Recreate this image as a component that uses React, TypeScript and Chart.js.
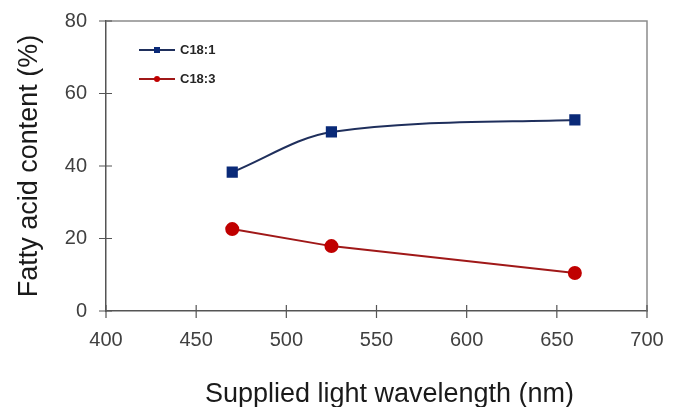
import React, { useEffect, useRef } from "react";
import { Chart, registerables } from "chart.js";

Chart.register(...registerables);

const wavelengths = [470, 525, 660];
const c181Values = [38.3, 49.4, 52.7];
const c183Values = [22.6, 17.9, 10.5];
const seriesNames = ["C18:1", "C18:3"];
const xTitle = "Supplied light wavelength (nm)";
const yTitle = "Fatty acid content (%)";

const FONT = "'Liberation Sans', Arial, sans-serif";

const frameAndTicks = {
  id: "frameAndTicks",
  afterDraw(chart: any) {
    const { ctx, chartArea } = chart;
    const { left, right, top, bottom } = chartArea;
    ctx.save();
    ctx.strokeStyle = "#8c8c8c";
    ctx.lineWidth = 1.5;
    ctx.beginPath();
    ctx.moveTo(left, top);
    ctx.lineTo(right, top);
    ctx.lineTo(right, bottom);
    ctx.stroke();
    ctx.strokeStyle = "#555555";
    ctx.lineWidth = 1.2;
    const xs = chart.scales.x;
    const ys = chart.scales.y;
    ctx.beginPath();
    xs.ticks.forEach((t: any) => {
      const px = xs.getPixelForValue(t.value);
      ctx.moveTo(px, bottom - 6);
      ctx.lineTo(px, bottom + 7);
    });
    ys.ticks.forEach((t: any) => {
      const py = ys.getPixelForValue(t.value);
      ctx.moveTo(left - 7, py);
      ctx.lineTo(left + 6, py);
    });
    ctx.stroke();
    // x axis title (slightly right of the plot centre, as in the original)
    ctx.fillStyle = "#1a1a1a";
    ctx.font = `27px ${FONT}`;
    ctx.textAlign = "center";
    ctx.textBaseline = "alphabetic";
    ctx.fillText(xTitle, (left + right) / 2 + 13, chart.height - 5);
    ctx.restore();
  },
};

const insideLegend = {
  id: "insideLegend",
  afterDraw(chart: any) {
    const { ctx, chartArea } = chart;
    ctx.save();
    chart.data.datasets.forEach((ds: any, i: number) => {
      const x0 = chartArea.left + 33;
      const y = chartArea.top + 29 + i * 29;
      const x1 = x0 + 36;
      ctx.strokeStyle = ds.borderColor;
      ctx.lineWidth = 2;
      ctx.beginPath();
      ctx.moveTo(x0, y);
      ctx.lineTo(x1, y);
      ctx.stroke();
      ctx.fillStyle = ds.pointBackgroundColor;
      const cx = (x0 + x1) / 2;
      if (ds.pointStyle === "rect") {
        ctx.fillRect(cx - 3, y - 3, 6, 6);
      } else {
        ctx.beginPath();
        ctx.arc(cx, y, 3, 0, Math.PI * 2);
        ctx.fill();
      }
      ctx.fillStyle = "#262626";
      ctx.font = `bold 13px ${FONT}`;
      ctx.textBaseline = "middle";
      ctx.textAlign = "left";
      ctx.fillText(ds.label, x1 + 5, y);
    });
    ctx.restore();
  },
};

export default function App() {
  const ref = useRef<HTMLCanvasElement>(null);
  useEffect(() => {
    if (!ref.current) return;
    const chart = new Chart(ref.current, {
      type: "line",
      data: {
        datasets: [
          {
            label: seriesNames[0],
            data: wavelengths.map((w, i) => ({ x: w, y: c181Values[i] })),
            borderColor: "#1f2f5c",
            backgroundColor: "#0a2a78",
            pointBackgroundColor: "#0a2a78",
            pointBorderColor: "#0a2a78",
            pointStyle: "rect",
            pointRadius: 6.5,
            borderWidth: 2,
            tension: 0.45,
            cubicInterpolationMode: "monotone",
          },
          {
            label: seriesNames[1],
            data: wavelengths.map((w, i) => ({ x: w, y: c183Values[i] })),
            borderColor: "#a01818",
            backgroundColor: "#c00000",
            pointBackgroundColor: "#c00000",
            pointBorderColor: "#c00000",
            pointStyle: "circle",
            pointRadius: 6,
            borderWidth: 2,
            tension: 0,
          },
        ],
      },
      options: {
        animation: false,
        responsive: false,
        maintainAspectRatio: false,
        layout: { padding: { left: 13, top: 21, right: 34, bottom: 0 } },
        plugins: { legend: { display: false }, tooltip: { enabled: false } },
        scales: {
          x: {
            type: "linear",
            min: 400,
            max: 700,
            ticks: {
              stepSize: 50,
              padding: 17,
              color: "#404040",
              font: { family: FONT, size: 20 },
            },
            grid: { display: false, drawTicks: false, tickLength: 0 },
            border: { display: true, color: "#555555", width: 1.5 },
            title: { display: false },
            afterFit: (s: any) => {
              s.height = 96;
              s.paddingLeft = 0;
              s.paddingRight = 0;
            },
          },
          y: {
            min: 0,
            max: 80,
            ticks: {
              stepSize: 20,
              padding: 19,
              color: "#404040",
              font: { family: FONT, size: 20 },
            },
            grid: { display: false, drawTicks: false, tickLength: 0 },
            border: { display: true, color: "#555555", width: 1.5 },
            title: {
              display: true,
              text: yTitle,
              color: "#1a1a1a",
              font: { family: FONT, size: 27 },
              padding: 0,
            },
            afterFit: (s: any) => {
              s.width = 93;
              s.paddingTop = 0;
              s.paddingBottom = 0;
            },
          },
        },
      },
      plugins: [frameAndTicks, insideLegend],
    } as any);
    return () => chart.destroy();
  }, []);
  return (
    <div style={{ position: "fixed", left: 0, top: 0, width: 681, height: 407, background: "#fff" }}>
      <canvas ref={ref} width={681} height={407} style={{ width: 681, height: 407 }} />
    </div>
  );
}
